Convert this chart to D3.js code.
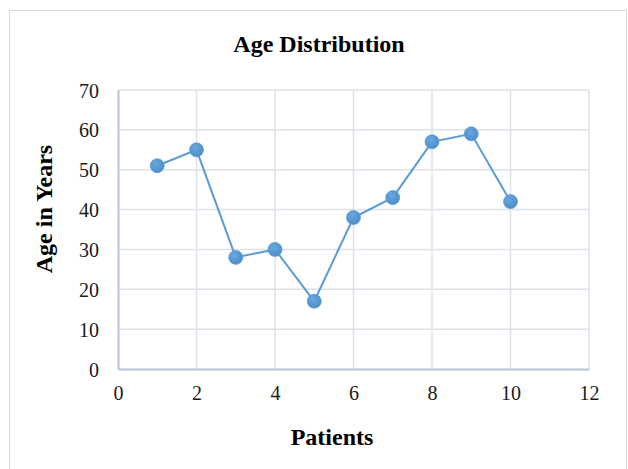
<!DOCTYPE html>
<html>
<head>
<meta charset="utf-8">
<script src="https://cdn.jsdelivr.net/npm/d3@7"></script>
<style>
  html, body { margin: 0; padding: 0; background: #ffffff; }
  svg { display: block; }
</style>
</head>
<body>
<svg id="chart" width="628" height="469"></svg>
<script>
// ---- data ----
const patients = [1, 2, 3, 4, 5, 6, 7, 8, 9, 10];
const ages = [51, 55, 28, 30, 17, 38, 43, 57, 59, 42];
const xTicks = [0, 2, 4, 6, 8, 10, 12];
const yTicks = [0, 10, 20, 30, 40, 50, 60, 70];
const chartTitle = "Age Distribution";
const xTitle = "Patients";
const yTitle = "Age in Years";

// ---- layout ----
const W = 628, H = 469;
const plot = { left: 118, right: 589, top: 90, bottom: 369 };
const svg = d3.select("#chart");
const font = "'Liberation Serif', 'Times New Roman', serif";

// outer chart border
svg.append("rect")
  .attr("x", 9.5).attr("y", 10.5)
  .attr("width", 617).attr("height", 470)
  .attr("fill", "#ffffff")
  .attr("stroke", "#d9d9d9").attr("stroke-width", 1);

const x = d3.scaleLinear().domain([0, 12]).range([plot.left, plot.right]);
const y = d3.scaleLinear().domain([0, 70]).range([plot.bottom, plot.top]);

// gridlines
const grid = svg.append("g");
grid.selectAll("line.h").data(yTicks.filter(d => d > 0)).join("line")
  .attr("x1", plot.left).attr("x2", plot.right)
  .attr("y1", d => y(d)).attr("y2", d => y(d))
  .attr("stroke", "#dde2ea").attr("stroke-width", 1.5);
grid.selectAll("line.v").data(xTicks.filter(d => d > 0)).join("line")
  .attr("y1", plot.top).attr("y2", plot.bottom)
  .attr("x1", d => x(d)).attr("x2", d => x(d))
  .attr("stroke", "#dde2ea").attr("stroke-width", 1.5);

// axes
const xAxis = svg.append("g")
  .attr("transform", `translate(0,${plot.bottom})`)
  .call(d3.axisBottom(x).tickValues(xTicks).tickSize(0).tickPadding(17));
const yAxis = svg.append("g")
  .attr("transform", `translate(${plot.left},0)`)
  .call(d3.axisLeft(y).tickValues(yTicks).tickSize(0).tickPadding(19));
[xAxis, yAxis].forEach(g => {
  g.select(".domain").attr("stroke", "#b7c2d6").attr("stroke-width", 2);
  g.selectAll("text")
    .attr("font-family", font).attr("font-size", 20).attr("fill", "#1a1a1a");
});
yAxis.selectAll("text").attr("dy", "0.35em");

// line
const line = d3.line().x((d, i) => x(patients[i])).y(d => y(d));
svg.append("path")
  .datum(ages)
  .attr("d", line)
  .attr("fill", "none")
  .attr("stroke", "#5b9bd5")
  .attr("stroke-width", 2);

// markers
const defs = svg.append("defs");
const grad = defs.append("radialGradient").attr("id", "mk")
  .attr("cx", "40%").attr("cy", "35%").attr("r", "70%");
grad.append("stop").attr("offset", "0%").attr("stop-color", "#6aa7de");
grad.append("stop").attr("offset", "100%").attr("stop-color", "#4a8bc9");

svg.selectAll("circle.pt").data(ages).join("circle")
  .attr("class", "pt")
  .attr("cx", (d, i) => x(patients[i]))
  .attr("cy", d => y(d))
  .attr("r", 7)
  .attr("fill", "url(#mk)")
  .attr("stroke", "#5b9bd5").attr("stroke-width", 0.75);

// titles
svg.append("text")
  .attr("x", 319).attr("y", 52)
  .attr("text-anchor", "middle")
  .attr("font-family", font).attr("font-weight", "bold").attr("font-size", 24)
  .attr("fill", "#000")
  .text(chartTitle);

svg.append("text")
  .attr("x", 332).attr("y", 445)
  .attr("text-anchor", "middle")
  .attr("font-family", font).attr("font-weight", "bold").attr("font-size", 24)
  .attr("fill", "#000")
  .text(xTitle);

svg.append("text")
  .attr("transform", "translate(52,209) rotate(-90)")
  .attr("text-anchor", "middle")
  .attr("font-family", font).attr("font-weight", "bold").attr("font-size", 24)
  .attr("fill", "#000")
  .text(yTitle);
</script>
</body>
</html>
